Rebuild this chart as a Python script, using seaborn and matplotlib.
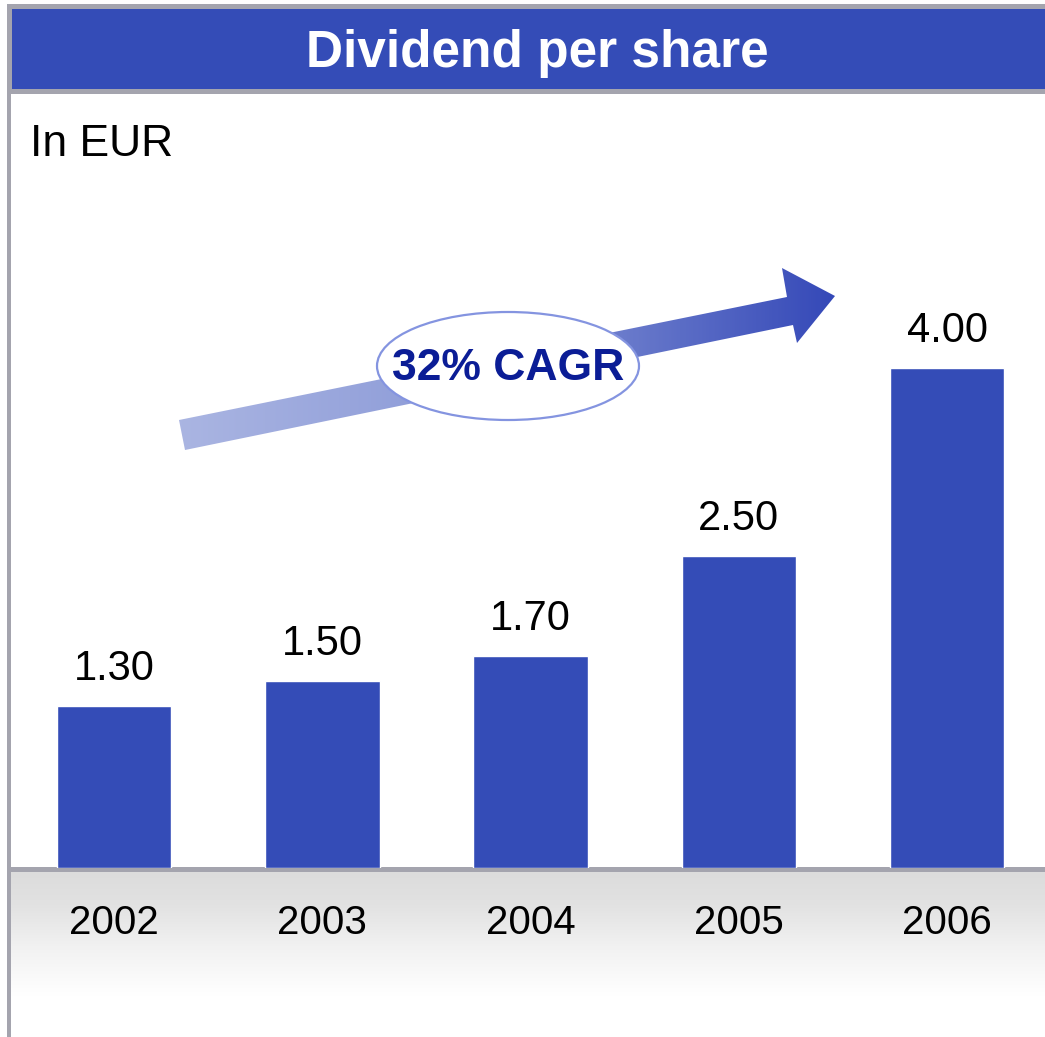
import numpy as np
import pandas as pd
import matplotlib
matplotlib.use("Agg")
import matplotlib.pyplot as plt
import seaborn as sns
from matplotlib.patches import Rectangle, Polygon, Ellipse
from matplotlib.colors import LinearSegmentedColormap

# --- data ---
years = ['2002', '2003', '2004', '2005', '2006']
dividend = [1.30, 1.50, 1.70, 2.50, 4.00]
title = 'Dividend per share'
unit_label = 'In EUR'
cagr_label = '32% CAGR'

BLUE = '#344CB7'
GREY = '#A4A4AE'
NAVY = '#0B1D96'

sns.set_style('white')
plt.rcParams['font.family'] = ['Liberation Sans', 'DejaVu Sans']
plt.rcParams['text.color'] = 'black'
plt.rcParams['xtick.color'] = 'black'

W, H = 1045, 1037
fig = plt.figure(figsize=(W / 100, H / 100), dpi=100)

# --- background / decoration layer in pixel coords ---
bg = fig.add_axes([0, 0, 1, 1], zorder=0)
bg.set_xlim(0, W)
bg.set_ylim(H, 0)
bg.axis('off')

# title bar
bg.add_patch(Rectangle((7, 4), W - 7, 90, facecolor=GREY, edgecolor='none'))
bg.add_patch(Rectangle((12, 9), W - 12, 80, facecolor=BLUE, edgecolor='none'))
bg.text(537, 53, title, color='white', fontsize=37, fontweight='bold',
        ha='center', va='center')

# left border
bg.add_patch(Rectangle((7, 94), 4, H - 94, facecolor=GREY, edgecolor='none'))

# bottom grey gradient band
band_cmap = LinearSegmentedColormap.from_list(
    'band', [(0, '#DCDCDC'), (0.2, '#E2E2E2'), (0.45, '#F1F1F1'), (0.75, '#FFFFFF'), (1, '#FFFFFF')])
grad = np.linspace(0, 1, 200).reshape(-1, 1)
bg.imshow(grad, cmap=band_cmap, extent=(11, W, H, 872), aspect='auto', zorder=1)
bg.add_patch(Rectangle((11, 867), W - 11, 5, facecolor=GREY, edgecolor='none', zorder=2))

# unit label
bg.text(30, 144, unit_label, fontsize=32, ha='left', va='center')

# growth arrow with horizontal gradient
arrow_pts = [(185, 450), (179, 420), (787, 297), (782, 268), (835, 296), (797, 343), (793, 325)]
arrow = Polygon(arrow_pts, closed=True, facecolor='none', edgecolor='none')
bg.add_patch(arrow)
arrow_cmap = LinearSegmentedColormap.from_list('arr', ['#AAB5E2', '#8796D6', '#3549B8'])
xgrad = np.linspace(0, 1, 300).reshape(1, -1)
im = bg.imshow(xgrad, cmap=arrow_cmap, extent=(179, 835, 450, 268), aspect='auto', zorder=3)
im.set_clip_path(arrow)

# CAGR bubble
bg.add_patch(Ellipse((508, 366), 262, 108, facecolor='white', edgecolor='#8494E0',
                     linewidth=1.6, zorder=4))
bg.text(508, 369, cagr_label, color=NAVY, fontsize=32, fontweight='bold',
        ha='center', va='center', zorder=5)

# --- bar chart ---
ax = fig.add_axes([10 / W, 169 / H, 1035 / W, 775 / H], zorder=1)
ax.patch.set_alpha(0)
df = pd.DataFrame({'year': years, 'dividend': dividend})
sns.barplot(data=df, x='year', y='dividend', color=BLUE, saturation=1,
            width=0.55, ax=ax)
ax.bar_label(ax.containers[0], labels=[f'{v:.2f}' for v in dividend],
             padding=12, fontsize=30, color='black')
ax.set_xlim(-0.5, 4.47)
ax.set_ylim(0, 6.2)
ax.set_yticks([])
ax.set_xlabel('')
ax.set_ylabel('')
ax.tick_params(axis='x', length=0, pad=26, labelsize=29, labelcolor='black')
for s in ax.spines.values():
    s.set_visible(False)

fig.savefig('out.png', dpi=100)
